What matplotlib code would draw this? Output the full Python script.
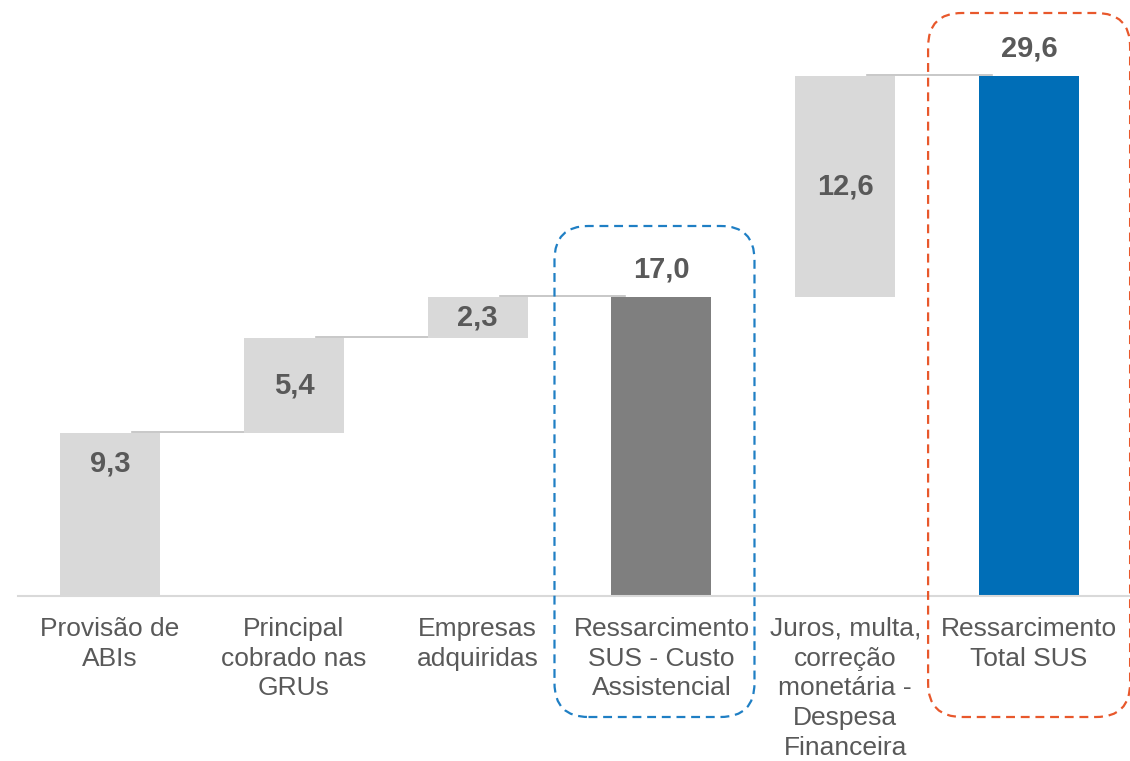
#!/usr/bin/env python3

import matplotlib.pyplot as plt
from matplotlib.patches import FancyBboxPatch

plt.rcParams['font.family'] = ['Liberation Sans', 'DejaVu Sans']

# Waterfall data (R$ bilhões)
categories = [
    "Provisão de\nABIs",
    "Principal\ncobrado nas\nGRUs",
    "Empresas\nadquiridas",
    "Ressarcimento\nSUS - Custo\nAssistencial",
    "Juros, multa,\ncorreção\nmonetária -\nDespesa\nFinanceira",
    "Ressarcimento\nTotal SUS",
]
values = [9.3, 5.4, 2.3, 17.0, 12.6, 29.6]
kinds = ["start", "step", "step", "total", "step", "total"]

TEXT = "#595959"
colors = {"start": "#D9D9D9", "step": "#D9D9D9"}
total_colors = ["#7F7F7F", "#006EB7"]


def bar_bottoms(values, kinds):
    bottoms = []
    running = 0.0
    for v, k in zip(values, kinds):
        if k in ("total", "start"):
            bottoms.append(0.0)
            running = v
        else:
            bottoms.append(running)
            running += v
    return bottoms


def main():
    fig = plt.figure(figsize=(11.3, 7.61), dpi=100)
    ax = fig.add_axes([0.016, 1 - 596 / 761, 0.984, 596 / 761])

    x = list(range(len(values)))
    bottoms = bar_bottoms(values, kinds)
    width = 0.544

    bar_colors = []
    t = 0
    for k in kinds:
        if k == "total":
            bar_colors.append(total_colors[t])
            t += 1
        else:
            bar_colors.append(colors[k])

    # connector lines into the next bar (none leaving a subtotal)
    for i in range(len(values) - 1):
        if kinds[i] == "total":
            continue
        level = bottoms[i] + values[i]
        ax.plot([x[i] + 0.12, x[i + 1] - 0.2], [level + 0.05, level + 0.05],
                color="#BFBFBF", lw=1.2, zorder=1)

    ax.bar(x, values, bottom=bottoms, width=width, color=bar_colors, zorder=2)

    # value labels
    for i, (v, b, k) in enumerate(zip(values, bottoms, kinds)):
        label = f"{v:.1f}".replace(".", ",")
        if k == "total":
            ax.annotate(label, (x[i], b + v), xytext=(0, 10), textcoords="offset points",
                        ha="center", va="bottom", fontsize=21, fontweight="bold", color=TEXT)
        elif k == "start":
            ax.annotate(label, (x[i], b + v), xytext=(0, -22), textcoords="offset points",
                        ha="center", va="center", fontsize=21, fontweight="bold", color=TEXT)
        else:
            ax.text(x[i], b + v / 2, label, ha="center", va="center",
                    fontsize=21, fontweight="bold", color=TEXT)

    ax.set_xlim(-0.5005, 5.549)
    ax.set_ylim(0, 33.92)
    ax.set_xticks(x)
    ax.set_xticklabels(categories, fontsize=19, color=TEXT, linespacing=1.3)
    ax.tick_params(axis="x", length=0, pad=15)
    ax.set_yticks([])
    for side in ["top", "right", "left"]:
        ax.spines[side].set_visible(False)
    ax.spines["bottom"].set_color("#D9D9D9")
    ax.spines["bottom"].set_linewidth(1.5)

    # dashed highlight boxes around the two totals (pixel geometry from bar centres)
    fig.canvas.draw()
    H = 761
    boxes = [(3, -107, 93, 226, 717, "#1F7FC4"), (5, -101, 101, 13, 717, "#E8582C")]
    for idx, left, right, top, bottom, col in boxes:
        cx = ax.transData.transform((x[idx], 0))[0]
        x0 = (cx + left) / 100
        w = (right - left) / 100
        y0 = (H - bottom) / 100
        h = (bottom - top) / 100
        box = FancyBboxPatch((x0, y0), w, h, boxstyle="round,pad=0,rounding_size=0.34",
                             transform=fig.dpi_scale_trans, fill=False, edgecolor=col,
                             lw=1.6, linestyle=(0, (4, 2.6)), clip_on=False)
        fig.patches.append(box)

    fig.savefig("out.png", dpi=100)


if __name__ == "__main__":
    main()
